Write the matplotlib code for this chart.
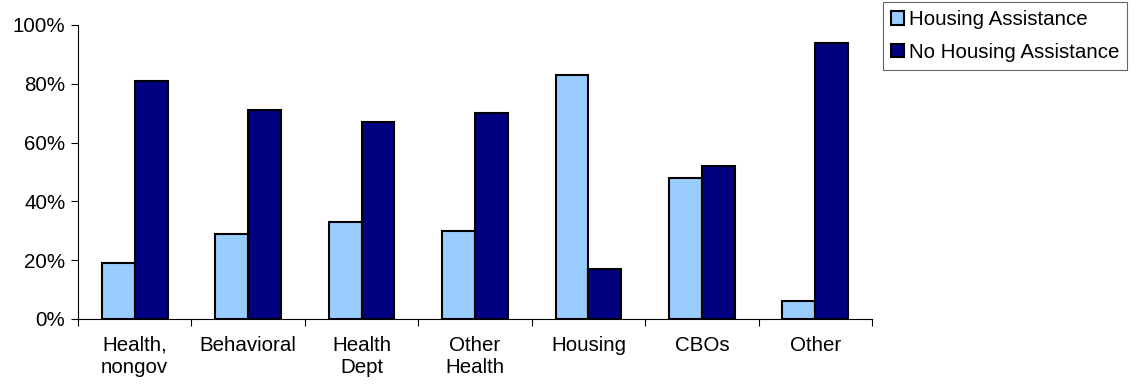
import numpy as np
import matplotlib.pyplot as plt
from matplotlib.ticker import FixedLocator, PercentFormatter

plt.rcParams['font.family'] = ['Liberation Sans', 'DejaVu Sans']

categories = ["Health,\nnongov", "Behavioral", "Health\nDept", "Other\nHealth",
              "Housing", "CBOs", "Other"]
housing = [19, 29, 33, 30, 83, 48, 6]
no_housing = [81, 71, 67, 70, 17, 52, 94]

fs = 14.8
fig = plt.figure(figsize=(11.37, 3.9), dpi=100)
ax = fig.add_axes([78 / 1137, 1 - 319 / 390, 794 / 1137, 294 / 390])

x = np.arange(len(categories))
w = 0.29
ax.bar(x - w / 2, housing, w, color='#99CCFF', edgecolor='black', linewidth=1.5,
       label='Housing Assistance')
ax.bar(x + w / 2, no_housing, w, color='#000080', edgecolor='black', linewidth=1.5,
       label='No Housing Assistance')

ax.set_xlim(-0.5, len(categories) - 0.5)
ax.set_ylim(0, 100)
ax.set_yticks(range(0, 101, 20))
ax.yaxis.set_major_formatter(PercentFormatter(decimals=0))
ax.set_xticks(x)
ax.set_xticklabels(categories, fontsize=fs, linespacing=1.2)
ax.xaxis.set_minor_locator(FixedLocator(np.arange(-0.5, len(categories), 1)))
ax.tick_params(axis='x', which='major', length=0, pad=12)
ax.tick_params(axis='x', which='minor', length=5, width=0.8, direction='out')
ax.tick_params(axis='y', length=5, width=0.8, labelsize=fs, pad=4)

for s in ['top', 'right']:
    ax.spines[s].set_visible(False)
for s in ['left', 'bottom']:
    ax.spines[s].set_linewidth(0.8)

leg = fig.legend(loc='upper left', bbox_to_anchor=(883 / 1137, 1 - 2 / 390),
                 fontsize=fs, frameon=True, fancybox=False, handlelength=0.6,
                 handleheight=0.6, handletextpad=0.25, borderpad=0.4,
                 labelspacing=0.65, borderaxespad=0)
leg.get_frame().set_edgecolor('#404040')
leg.get_frame().set_linewidth(0.8)

fig.savefig('out.png', dpi=100)
